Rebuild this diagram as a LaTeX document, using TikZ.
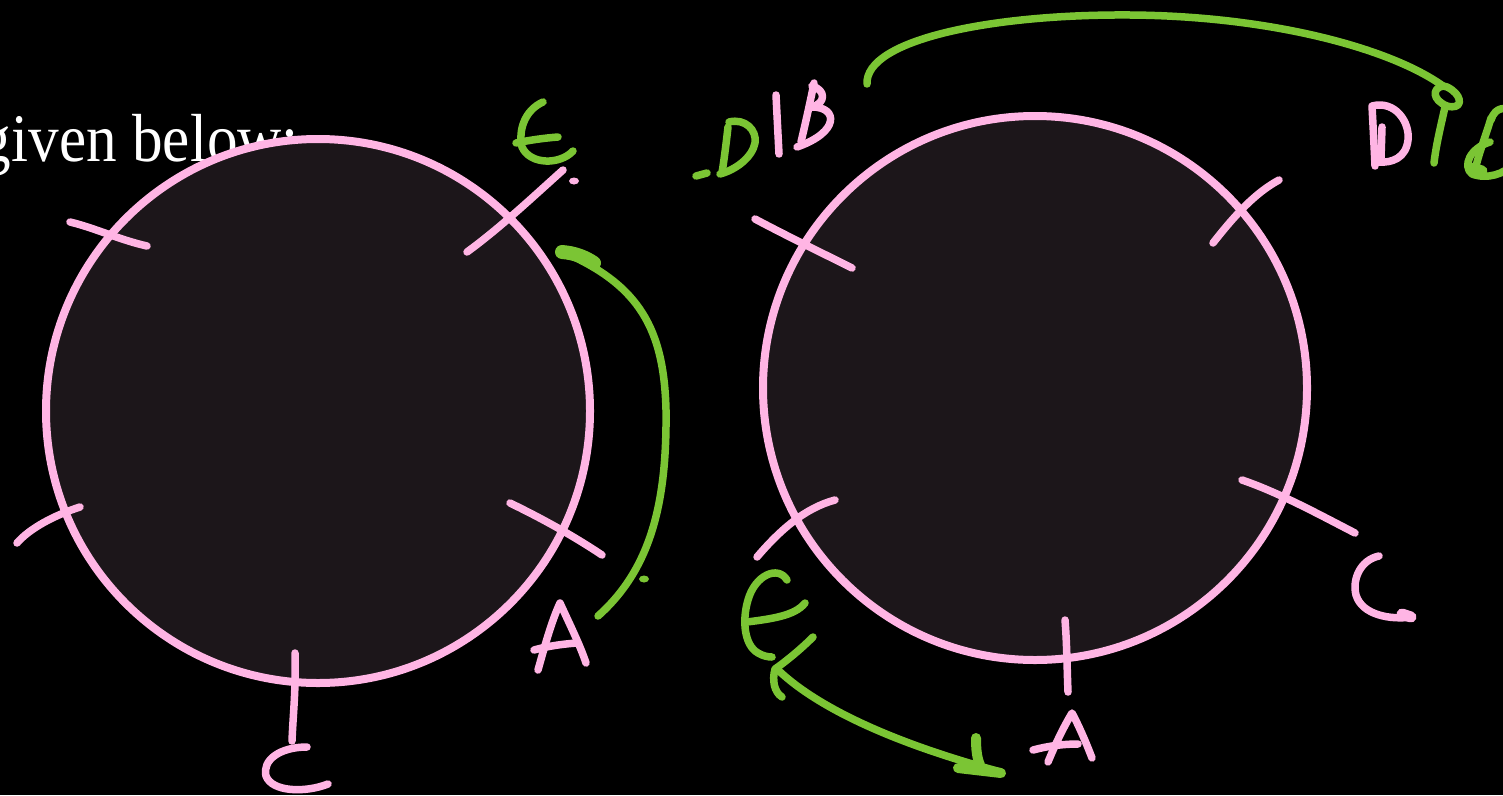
\documentclass[tikz,border=0pt]{standalone}
\usepackage{fontspec}
\setmainfont{Liberation Serif}
\usepackage{graphicx}
\definecolor{inkpink}{HTML}{FFB5E4}
\definecolor{inkgreen}{HTML}{7BC534}
\definecolor{disc}{HTML}{1C161A}
\begin{document}
\begin{tikzpicture}[x=1pt,y=-1pt,
  pinkline/.style={draw=inkpink,line width=7.5pt,line cap=round,line join=round},
  greenline/.style={draw=inkgreen,line width=7.5pt,line cap=round,line join=round},
  disk/.style={fill=disc,draw=inkpink,line width=8pt}]
\fill[black] (0,0) rectangle (1503,795);
\useasboundingbox (0,0) rectangle (1503,795);

% heading text, partly off the left edge
\node[anchor=base east,text=white,inner sep=0pt] (head) at (299,161)
  {\scalebox{0.9}[1]{\fontsize{68}{68}\selectfont given below:}};

% ---------- left disc ----------
\coordinate (cl) at (318,411);
\draw[disk] (cl) circle[radius=272];
% tick marks
\draw[pinkline] (70,222) .. controls (95,228) and (120,240) .. (147,246);
\draw[pinkline] (467,252) .. controls (500,228) and (535,195) .. (563,170);
\draw[pinkline] (17,543) .. controls (30,528) and (55,515) .. (80,507);
\draw[pinkline] (510,503) .. controls (545,520) and (575,537) .. (602,555);
\draw[pinkline] (295,653) .. controls (296,690) and (293,715) .. (292,741);
% letter C below
\draw[pinkline] (307,747) .. controls (280,747) and (262,760) .. (266,776)
  .. controls (272,792) and (305,793) .. (328,784);
% letter A
\draw[pinkline] (538,670) .. controls (545,645) and (552,620) .. (560,603)
  .. controls (570,625) and (580,645) .. (586,663);
\draw[pinkline] (534,650) .. controls (548,646) and (563,644) .. (577,643);
% green E
\draw[greenline] (543,102) .. controls (525,110) and (518,130) .. (522,147)
  .. controls (530,165) and (560,165) .. (573,151);
\draw[greenline] (516,143) .. controls (530,140) and (545,138) .. (558,137);
\fill[inkpink] (574,181) ellipse[x radius=5,y radius=3.5];
% green arc beside the disc
\draw[greenline,line width=14pt] (562,252) .. controls (575,253) and (585,257) .. (594,263);
\draw[greenline] (563,252) .. controls (640,285) and (664,330) .. (666,410)
  .. controls (667,500) and (652,568) .. (598,616);
\fill[inkgreen] (644,579) ellipse[x radius=5,y radius=3.5];

% ---------- right disc ----------
\coordinate (cr) at (1035,388);
\draw[disk] (cr) circle[radius=272];
% tick marks
\draw[pinkline] (755,219) .. controls (785,235) and (820,252) .. (852,268);
\draw[pinkline] (757,557) .. controls (780,530) and (805,508) .. (835,500);
\draw[pinkline] (1213,243) .. controls (1235,215) and (1255,193) .. (1279,180);
\draw[pinkline] (1242,480) .. controls (1280,493) and (1320,515) .. (1355,533);
\draw[pinkline] (1065,620) .. controls (1067,645) and (1067,670) .. (1068,692);
% letter C
\draw[pinkline] (1379,556) .. controls (1360,560) and (1352,580) .. (1356,595)
  .. controls (1362,615) and (1390,620) .. (1412,617);
\draw[pinkline,line width=11pt] (1402,614) -- (1411,617);
% letter A
\draw[pinkline] (1048,762) .. controls (1055,745) and (1063,728) .. (1072,713)
  .. controls (1080,728) and (1087,745) .. (1092,758);
\draw[pinkline] (1033,750) .. controls (1048,746) and (1063,744) .. (1078,744);
% green E
\draw[greenline] (787,580) .. controls (778,565) and (755,575) .. (748,600)
  .. controls (742,620) and (744,645) .. (758,653) .. controls (763,656) and (768,657) .. (772,657);
\draw[greenline] (747,622) .. controls (770,619) and (795,616) .. (805,603);
% green arrow from under the disc
\draw[greenline] (813,637) .. controls (800,650) and (785,662) .. (775,669)
  .. controls (772,680) and (774,692) .. (782,697);
\draw[greenline] (778,670) .. controls (820,710) and (900,745) .. (1001,772);
\draw[greenline,line width=10pt] (976,738) .. controls (976,750) and (977,758) .. (980,765);
\draw[greenline,line width=10pt] (958,768) -- (1001,773);

% green .D at the top
\draw[greenline] (696,176) -- (707,173);
\draw[greenline] (728,127) .. controls (726,145) and (724,160) .. (722,173);
\draw[greenline] (729,122) .. controls (745,118) and (757,130) .. (755,143)
  .. controls (752,158) and (735,170) .. (720,174);
% pink I and B
\draw[pinkline] (776,95) .. controls (777,115) and (778,135) .. (779,154);
\draw[pinkline] (814,83) .. controls (810,103) and (805,125) .. (801,142);
\draw[pinkline] (812,86) .. controls (826,90) and (826,103) .. (812,107)
  .. controls (838,107) and (840,132) .. (797,147);

% long green arc over the right disc
\draw[greenline] (867,84) .. controls (865,40) and (990,14) .. (1130,15)
  .. controls (1270,16) and (1390,48) .. (1443,86);
\draw[greenline] (1443,86) .. controls (1432,88) and (1432,100) .. (1447,106)
  .. controls (1462,110) and (1463,98) .. (1452,90) .. controls (1448,87) and (1445,86) .. (1443,86);
\draw[greenline] (1445,107) .. controls (1441,125) and (1436,145) .. (1434,163);
% pink D
\draw[pinkline] (1375,166) .. controls (1374,145) and (1373,125) .. (1372,106)
  .. controls (1395,100) and (1410,122) .. (1408,140)
  .. controls (1406,158) and (1392,163) .. (1379,162);
\draw[pinkline] (1382,127) -- (1381,158);
% green B at the right edge
\draw[greenline] (1491,118) .. controls (1486,135) and (1480,150) .. (1476,166);
\draw[greenline] (1491,120) .. controls (1495,106) and (1508,106) .. (1512,114);
\draw[greenline] (1490,142) .. controls (1470,148) and (1462,166) .. (1472,174)
  .. controls (1488,180) and (1505,173) .. (1512,165);
\draw[greenline,line width=11pt] (1472,168) -- (1482,171);
\end{tikzpicture}
\end{document}
